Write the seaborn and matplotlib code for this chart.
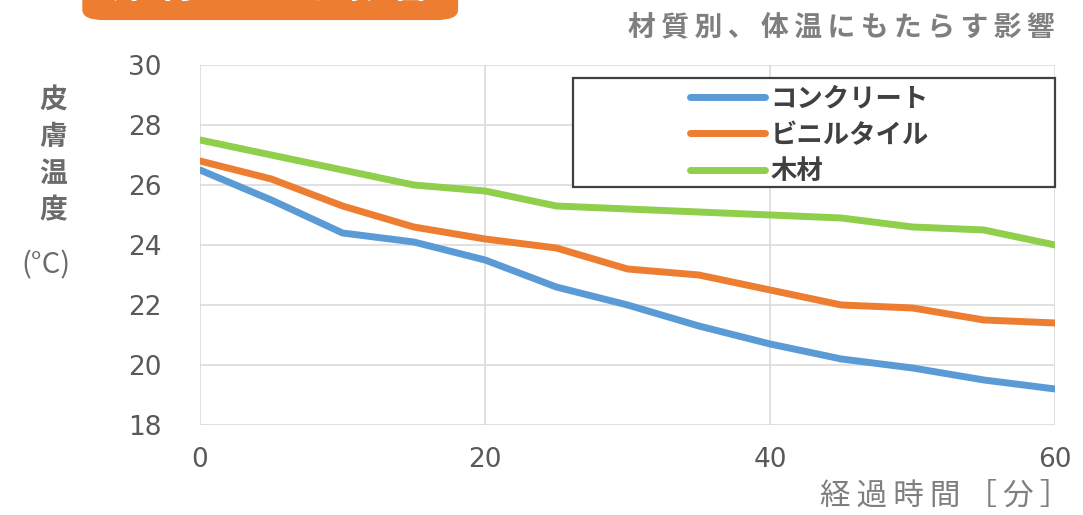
import pandas as pd
import matplotlib.pyplot as plt
import seaborn as sns
from matplotlib.patches import Rectangle, FancyBboxPatch

sns.set_theme(style="whitegrid")
plt.rcParams['font.family'] = ['Noto Sans CJK JP', 'DejaVu Sans']

# data (skin temperature, degC)
minutes = [0, 5, 10, 15, 20, 25, 30, 35, 40, 45, 50, 55, 60]
concrete = [26.5, 25.5, 24.4, 24.1, 23.5, 22.6, 22.0, 21.3, 20.7, 20.2, 19.9, 19.5, 19.2]
vinyl_tile = [26.8, 26.2, 25.3, 24.6, 24.2, 23.9, 23.2, 23.0, 22.5, 22.0, 21.9, 21.5, 21.4]
wood = [27.5, 27.0, 26.5, 26.0, 25.8, 25.3, 25.2, 25.1, 25.0, 24.9, 24.6, 24.5, 24.0]
materials = ['コンクリート', 'ビニルタイル', '木材']
colors = ['#5B9BD5', '#ED7D31', '#8FCF4C']

df = pd.DataFrame({'経過時間': minutes * 3,
                   '皮膚温度': concrete + vinyl_tile + wood,
                   '材質': [m for m in materials for _ in minutes]})

fig = plt.figure(figsize=(10.83, 5.15), dpi=100)
ax = fig.add_axes([0.1847, 0.1748, 0.7895, 0.699])

sns.lineplot(data=df, x='経過時間', y='皮膚温度', hue='材質', hue_order=materials,
             palette=dict(zip(materials, colors)), linewidth=5, ax=ax)

ax.set_xlim(0, 60)
ax.set_ylim(18, 30)
ax.set_xticks([0, 20, 40, 60])
ax.set_yticks(range(18, 31, 2))
ax.set_xlabel('')
ax.set_ylabel('')
ax.grid(True, color='#D9D9D9', linewidth=1.1)
for s in ax.spines.values():
    s.set_visible(False)
ax.tick_params(axis='y', length=0, pad=28, labelsize=19, labelcolor='#595959')
ax.tick_params(axis='x', length=0, pad=16, labelsize=19, labelcolor='#595959')
for lab in ax.get_xticklabels() + ax.get_yticklabels():
    lab.set_family('DejaVu Sans')

# legend: frame drawn separately so the entries can sit right of centre
ax.add_patch(Rectangle((0.436, 0.661), 0.564, 0.303, transform=ax.transAxes,
                       facecolor='white', edgecolor='#404040', linewidth=1.6,
                       zorder=5, clip_on=False))
leg = ax.legend(loc='upper left', bbox_to_anchor=(0.573, 0.944), frameon=False,
                borderpad=0, borderaxespad=0, handlelength=2.85, handletextpad=0.2,
                labelspacing=0.36, prop=dict(weight='bold', size=19))
leg.set_zorder(6)
for t in leg.get_texts():
    t.set_color('#404040')
for h in leg.get_lines():
    h.set_linewidth(5)

# title with widened character spacing
fig.text(0.974, 0.947, '\u2009'.join('材質別、体温にもたらす影響'), ha='right', va='center',
         fontsize=20, weight='bold', color='#7F7F7F')

# x axis label
fig.text(0.988, 0.036, '\u2009'.join('経過時間［分］'), ha='right', va='center',
         fontsize=22, color='#7F7F7F')

# vertical y axis label
fig.text(0.049, 0.698, '\n'.join('皮膚温度'), ha='center', va='center',
         fontsize=20, weight='bold', color='#6B6B6B', linespacing=1.38)
fig.text(0.042, 0.485, '(°C)', ha='center', va='center',
         fontsize=21, color='#6B6B6B')

# orange header box, cut off at the top edge
fig.patches.append(FancyBboxPatch((0.076, 0.961), 0.347, 0.2, transform=fig.transFigure,
                                  boxstyle='round,pad=0,rounding_size=0.02',
                                  facecolor='#ED7D31', edgecolor='none'))
fig.text(0.25, 1.0265, '\u2009'.join('床材による影響'), ha='center', va='center',
         fontsize=28, weight='bold', color='white')

fig.savefig('out.png', dpi=100)
